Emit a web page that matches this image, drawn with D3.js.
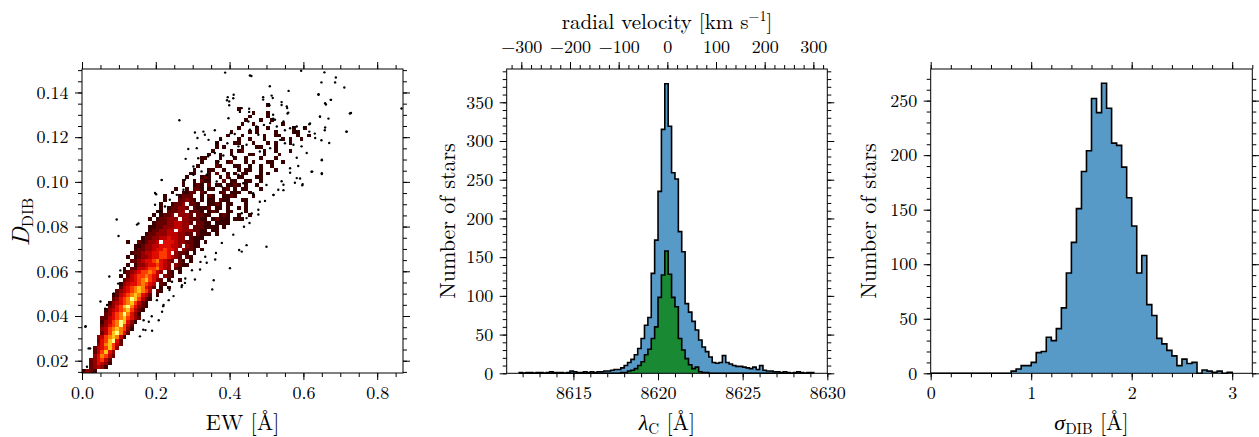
<!DOCTYPE html>
<html>
<head>
<meta charset="utf-8">
<script src="https://cdn.jsdelivr.net/npm/d3@7"></script>
<style>
body { margin: 0; background: #fff; }
svg text { font-family: "Latin Modern Roman"; fill: #000; }
.axis path.domain { display: none; }
.axis line { stroke: #000; stroke-width: 1; }
.axis text { font-family: "Latin Modern Roman"; font-size: 18px; }
.label { font-size: 22px; }
</style>
</head>
<body>
<svg id="fig" width="1259" height="437"></svg>
<script>
// ---- data ----

// left panel: 2D density of D_DIB vs EW, one string per D bin (lowest D first),
// one character per EW bin of 0.01 A, '.' = empty, 1..9 = density level
const densityEWStep = 0.01
const densityDStart = 0.0145
const densityDStep = 0.0017
const densityRows = [
  "2321",
  "..23431",
  "..235431",
  "..235642",
  "...357642",
  "...246853",
  "...2456863",
  "....3578642",
  "....2568952",
  "....34678741",
  ".....24689752",
  ".....346787631",
  ".....235679642",
  ".....1346798531",
  ".....22456786532",
  "......2356797531",
  "......13456786421",
  ".......23568975321",
  ".......13456786421",
  "........23567986421",
  "........12456787542.1",
  ".........2345678764.21",
  "..........2456787542.1.1",
  "..........1345567654.21",
  "...........23456786532.1..1",
  "..........1.245667654.321",
  "...........12345667643.21.1",
  "...........1.22445667543.21",
  "............1.1334556543.3211",
  ".............223455675432.21.1",
  "............1.1233455665432.21",
  ".............12234455665.3221.1",
  "..............122334556554.3221.1",
  "..............1123344555443.3211",
  "............1..212334.5554332211.1",
  "................122334454433.2111",
  ".................1223334443322.2111.1",
  "..................1223344.43332211.11",
  "..................11223334433.2221111.1",
  "...................12223344332.2211.1111",
  "..................1.122333.3322211.12111.111",
  "...................1.1223.3332.2211..121..1..1",
  "....................11.22233.2221.121..11...1",
  ".....................1.122332.21112.11.1..1.1",
  ".....................1..1223.221..1121.11...1",
  "......................1...22321.1.11.211...11",
  "......................1...1222..1.21..1121....1",
  "........................1..1122.21...12.111..1",
  ".........................1..1.221.11..12.1.11...1",
  "...........................1..121.2.11.1121.1..1",
  "...........................1..1.211...2.11..11..1",
  "............................1...121..1.2..11...11",
  ".............................11...1.2..1.1.21...1.1",
  "..............................1...11..1...1.11..1...1",
  "...............................1....21...11..1..1..1",
  "................................1...1..12...1.1...11..1",
  "................................11...1...1..1...1...1",
  "..................................1..1..1....11..1...1",
  "...................................1....1.12.....1..1...1",
  "....................................1.1....1...11...1",
  "....................................1....11...1...1.1...1",
  ".....................................1....1..1...1....1.1..1",
  ".......................................1...1.....1..11....1..1",
  "........................................1....1.1....1....11",
  "..........................................1....1..1......1..1",
  "...........................................1..1.......1",
  "............................................1...1..1",
  ".............................................1....1",
  "..............................................1...1",
  "..........................................1",
  "..................................................1"
]

// left panel: isolated stars drawn as dots [EW, D_DIB]
const outlierStars = [
  [0.388, 0.1489], [0.455, 0.1476], [0.459, 0.1474], [0.594, 0.1497], [0.657, 0.149],
  [0.688, 0.1467], [0.686, 0.1445], [0.649, 0.1445], [0.711, 0.1422], [0.509, 0.1428],
  [0.866, 0.1328], [0.726, 0.1306], [0.717, 0.1224], [0.661, 0.1346], [0.674, 0.1367],
  [0.641, 0.139], [0.56, 0.1407], [0.508, 0.1343], [0.491, 0.1368], [0.517, 0.1375],
  [0.541, 0.1344], [0.556, 0.133], [0.453, 0.1313], [0.428, 0.1313], [0.399, 0.1343],
  [0.393, 0.1365], [0.41, 0.1374], [0.264, 0.1276], [0.645, 0.1291], [0.557, 0.1306],
  [0.518, 0.1283], [0.573, 0.1243], [0.55, 0.1231], [0.618, 0.1261], [0.602, 0.1243],
  [0.631, 0.1216], [0.649, 0.1186], [0.67, 0.1174], [0.658, 0.1231], [0.668, 0.1283],
  [0.65, 0.1097], [0.622, 0.1045], [0.65, 0.1035], [0.597, 0.0985], [0.577, 0.0996],
  [0.591, 0.1015], [0.546, 0.0963], [0.519, 0.0941], [0.478, 0.0854], [0.5, 0.071],
  [0.446, 0.0717], [0.433, 0.0688], [0.401, 0.0614], [0.353, 0.0519], [0.27, 0.053],
  [0.216, 0.1008], [0.198, 0.095], [0.153, 0.0814], [0.094, 0.0832], [0.099, 0.0758],
  [0.074, 0.0577], [0.05, 0.0465], [0.01, 0.0354], [0.022, 0.0255], [0.166, 0.0339],
  [0.19, 0.0334], [0.157, 0.0309], [0.189, 0.0399], [0.22, 0.0444], [0.248, 0.0489],
  [0.279, 0.0548], [0.32, 0.0608], [0.306, 0.0563], [0.338, 0.0638], [0.363, 0.0682],
  [0.379, 0.0727], [0.41, 0.0764], [0.426, 0.0695], [0.439, 0.0799], [0.46, 0.0859],
  [0.482, 0.0911], [0.5, 0.0986], [0.464, 0.0949], [0.541, 0.1003], [0.564, 0.1041],
  [0.586, 0.1071], [0.582, 0.1108], [0.009, 0.0352], [0.018, 0.0255], [0.063, 0.0433],
  [0.149, 0.0809], [0.098, 0.0545], [0.104, 0.0604], [0.086, 0.0501], [0.068, 0.0449],
  [0.167, 0.0381], [0.172, 0.0337], [0.181, 0.0374], [0.208, 0.0381], [0.221, 0.0449],
  [0.217, 0.0419], [0.235, 0.0471], [0.203, 0.0471], [0.237, 0.0516], [0.271, 0.0538],
  [0.244, 0.0553], [0.28, 0.0568], [0.298, 0.0605], [0.321, 0.0642], [0.357, 0.056],
  [0.361, 0.0653], [0.334, 0.0665], [0.0135, 0.0173], [0.0045, 0.0158],
  [0.395, 0.1379], [0.411, 0.139], [0.399, 0.136], [0.433, 0.133], [0.453, 0.1327],
  [0.491, 0.1379], [0.514, 0.1386], [0.505, 0.1348], [0.541, 0.1357], [0.555, 0.1337],
  [0.518, 0.13], [0.523, 0.1278], [0.559, 0.131], [0.546, 0.127], [0.528, 0.1248],
  [0.564, 0.124], [0.582, 0.1248], [0.579, 0.1225], [0.616, 0.1258], [0.616, 0.1225],
  [0.641, 0.1392], [0.659, 0.1352], [0.675, 0.1367], [0.645, 0.1293], [0.659, 0.1243],
  [0.717, 0.1225], [0.729, 0.1308], [0.306, 0.1221], [0.329, 0.1225], [0.36, 0.1231],
  [0.333, 0.1211], [0.313, 0.1196], [0.343, 0.1188], [0.365, 0.1173], [0.377, 0.1188],
  [0.394, 0.1173], [0.403, 0.1218], [0.414, 0.1214], [0.424, 0.1159], [0.451, 0.127],
  [0.455, 0.1233], [0.473, 0.1248], [0.478, 0.1211], [0.493, 0.1255], [0.51, 0.1263],
  [0.397, 0.1285], [0.288, 0.1147], [0.311, 0.1151], [0.281, 0.1103], [0.302, 0.1069],
  [0.315, 0.1106], [0.342, 0.1114], [0.36, 0.1129], [0.37, 0.1091], [0.383, 0.1118],
  [0.41, 0.1114], [0.446, 0.1166], [0.482, 0.1136], [0.51, 0.1151], [0.537, 0.1188],
  [0.55, 0.1173], [0.573, 0.1166], [0.595, 0.1159], [0.609, 0.1129], [0.632, 0.1196],
  [0.65, 0.1099], [0.65, 0.1039], [0.624, 0.1046], [0.598, 0.099], [0.582, 0.1017],
  [0.564, 0.1061], [0.546, 0.0987], [0.532, 0.0965], [0.519, 0.0942], [0.496, 0.0915],
  [0.478, 0.0875], [0.454, 0.0816], [0.446, 0.0838], [0.433, 0.086], [0.464, 0.0942],
  [0.216, 0.1009], [0.201, 0.0945], [0.198, 0.0898], [0.211, 0.0868], [0.225, 0.089],
  [0.238, 0.092], [0.257, 0.0942], [0.275, 0.0965], [0.279, 0.1009], [0.302, 0.1032],
  [0.324, 0.1047], [0.338, 0.1032], [0.365, 0.1002], [0.378, 0.098], [0.401, 0.1017],
  [0.424, 0.1032], [0.437, 0.0994], [0.455, 0.1069]
]

// middle panel: central wavelength histogram, 0.2 A bins starting at 8611.8 A
const lambdaStart = 8611.8
const lambdaStep = 0.2
const lambdaAll = [
  1, 0, 1, 1, 0, 1, 1, 0, 1, 2,
  1, 1, 1, 0, 1, 3, 2, 1, 1, 2,
  1, 2, 1, 2, 2, 3, 3, 4, 5, 5,
  7, 10, 14, 18, 24, 32, 45, 62, 72, 129,
  172, 235, 315, 374, 319, 259, 251, 183, 157, 90,
  79, 67, 56, 43, 34, 28, 21, 14, 13, 14,
  23, 14, 12, 10, 9, 9, 8, 7, 6, 8,
  5, 10, 4, 3, 3, 2, 2, 1, 2, 1,
  0, 1, 2, 1, 0, 1, 1
]
const lambdaSubset = [
  0, 0, 0, 0, 0, 0, 0, 0, 0, 0,
  0, 0, 0, 0, 0, 0, 0, 0, 0, 0,
  0, 0, 0, 0, 0, 0, 0, 0, 0, 0,
  1, 1, 3, 4, 6, 10, 15, 24, 31, 45,
  60, 98, 127, 158, 128, 98, 86, 45, 30, 19,
  11, 6, 8, 2, 1, 1, 0, 0, 0, 0,
  0, 0, 0, 0, 0, 0, 0, 0, 0, 0,
  0, 0, 0, 0, 0, 0, 0, 0, 0, 0,
  0, 0, 0, 0, 0, 0, 0
]
const restLambda = 8620.55
const lightSpeed = 299792.458

// right panel: DIB width histogram, 0.05 A bins from 0 to 3 A
const sigmaStart = 0
const sigmaStep = 0.05
const sigmaCounts = [
  0, 0, 0, 0, 0, 0, 0, 0, 0, 0,
  0, 0, 0, 0, 0, 0, 2, 4, 7, 7,
  10, 19, 20, 33, 30, 41, 60, 92, 120, 151,
  185, 204, 252, 239, 266, 243, 211, 209, 189, 161,
  135, 92, 108, 63, 53, 32, 27, 21, 16, 7,
  13, 9, 10, 0, 3, 2, 1, 2, 0, 1
]

// tick values
const ewTicks = [0, 0.2, 0.4, 0.6, 0.8]
const dTicks = [0.02, 0.04, 0.06, 0.08, 0.10, 0.12, 0.14]
const lambdaTicks = [8615, 8620, 8625, 8630]
const rvTicks = [-300, -200, -100, 0, 100, 200, 300]
const midCountTicks = [0, 50, 100, 150, 200, 250, 300, 350]
const sigmaTicks = [0, 1, 2, 3]
const rightCountTicks = [0, 50, 100, 150, 200, 250]

// ---- drawing ----
const hotLevels = ['#3a0000', '#640000', '#920000', '#bd0000', '#e00c00',
                   '#ff3a00', '#ff7e00', '#ffc41a', '#ffff8c']
const blueFill = 'rgb(87,153,199)'
const greenFill = 'rgb(26,137,52)'

const svg = d3.select('#fig')

function makePanel(left, top) {
  return svg.append('g').attr('transform', `translate(${left},${top})`)
}

function addAxis(g, axisFn, scale, transform, major, minor, fmt, pad) {
  const gMinor = g.append('g').attr('class', 'axis')
  const gMajor = g.append('g').attr('class', 'axis')
  if (transform) { gMinor.attr('transform', transform); gMajor.attr('transform', transform) }
  gMinor.call(axisFn(scale).tickValues(minor).tickSize(4).tickFormat(''))
  gMajor.call(axisFn(scale).tickValues(major).tickSize(7).tickPadding(pad).tickFormat(fmt))
  gMinor.attr('font-family', null)
  gMajor.attr('font-family', null).attr('font-size', null)
  gMajor.selectAll('text')
    .style('font-family', '"Latin Modern Roman"')
    .style('font-size', '18px')
  return gMajor
}

function frame(g, x, y, w, h, o) {
  addAxis(g, d3.axisBottom, x, `translate(0,${h})`, o.xMajor, o.xMinor, o.xFmt, 6)
  if (o.xTop) {
    addAxis(g, d3.axisTop, o.xTop, null, o.xTopMajor, o.xTopMinor, d3.format('d'), 9)
  } else {
    addAxis(g, d3.axisTop, x, null, o.xMajor, o.xMinor, () => '', 4)
  }
  addAxis(g, d3.axisLeft, y, null, o.yMajor, o.yMinor, o.yFmt, 6.5)
  addAxis(g, d3.axisRight, y, `translate(${w},0)`, o.yMajor, o.yMinor, () => '', 4)
  g.append('rect')
    .attr('width', w).attr('height', h)
    .attr('fill', 'none').attr('stroke', '#000').attr('stroke-width', 1)
}

function stepHist(g, x, y, start, step, counts, fill) {
  const pts = counts.map((c, i) => [start + i * step, c])
  pts.push([start + counts.length * step, counts[counts.length - 1]])
  const area = d3.area().curve(d3.curveStepAfter)
    .x(d => x(d[0])).y0(y(0)).y1(d => y(d[1]))
  g.append('path').attr('d', area(pts)).attr('fill', fill)
  const outline = [[start, 0], ...pts, [start + counts.length * step, 0]]
  const line = d3.line().curve(d3.curveStepAfter).x(d => x(d[0])).y(d => y(d[1]))
  g.append('path').attr('d', line(outline))
    .attr('fill', 'none').attr('stroke', '#000').attr('stroke-width', 1.6)
}

function label(x, y) {
  return svg.append('text').attr('class', 'label')
    .attr('x', x).attr('y', y).attr('text-anchor', 'middle')
}

function yLabel(cx, cy) {
  return svg.append('text').attr('class', 'label')
    .attr('transform', `translate(${cx},${cy}) rotate(-90)`)
    .attr('text-anchor', 'middle')
}

// --- left panel ---
{
  const w = 321, h = 304
  const g = makePanel(82, 69)
  const x = d3.scaleLinear().domain([0, 0.87]).range([0, w])
  const y = d3.scaleLinear().domain([0.0145, 0.1505]).range([h, 0])

  g.append('clipPath').attr('id', 'clipL').append('rect').attr('width', w).attr('height', h)
  const plot = g.append('g').attr('clip-path', 'url(#clipL)')

  const cells = []
  densityRows.forEach((row, r) => {
    row.split('').forEach((ch, c) => {
      if (ch !== '.') cells.push({ ew: c * densityEWStep, d: densityDStart + r * densityDStep, lv: +ch })
    })
  })
  plot.selectAll('rect.cell').data(cells).join('rect')
    .attr('class', 'cell')
    .attr('x', d => x(d.ew))
    .attr('y', d => y(d.d + densityDStep))
    .attr('width', x(densityEWStep) - x(0))
    .attr('height', y(densityDStart) - y(densityDStart + densityDStep))
    .attr('fill', d => hotLevels[d.lv - 1])
    .attr('shape-rendering', 'crispEdges')

  plot.selectAll('circle.star').data(outlierStars).join('circle')
    .attr('class', 'star')
    .attr('cx', d => x(d[0])).attr('cy', d => y(d[1]))
    .attr('r', 1.2).attr('fill', '#000')

  frame(g, x, y, w, h, {
    xMajor: ewTicks, xMinor: d3.range(0, 0.87, 0.05), xFmt: d3.format('.1f'),
    yMajor: dTicks, yMinor: d3.range(0.015, 0.151, 0.005), yFmt: d3.format('.2f')
  })

  label(82 + w / 2, 430).text('EW [Å]')

  const yl = yLabel(29, 222)
  yl.append('tspan').attr('font-style', 'italic').attr('font-size', 25).text('D')
  yl.append('tspan').attr('font-size', 16).attr('dy', 4).text('DIB')
}

// --- middle panel ---
{
  const w = 320.6, h = 304.3
  const g = makePanel(506.7, 69)
  const lamDomain = [8611.06, 8630]
  const x = d3.scaleLinear().domain(lamDomain).range([0, w])
  const y = d3.scaleLinear().domain([0, 393]).range([h, 0])
  const xTop = d3.scaleLinear()
    .domain(lamDomain.map(l => lightSpeed * (l / restLambda - 1)))
    .range([0, w])

  stepHist(g, x, y, lambdaStart, lambdaStep, lambdaAll, blueFill)
  stepHist(g, x, y, lambdaStart, lambdaStep, lambdaSubset, greenFill)

  frame(g, x, y, w, h, {
    xMajor: lambdaTicks, xMinor: d3.range(8612, 8631, 1), xFmt: d3.format('d'),
    xTop: xTop, xTopMajor: rvTicks, xTopMinor: d3.range(-320, 321, 20),
    yMajor: midCountTicks, yMinor: d3.range(0, 391, 10), yFmt: d3.format('d')
  })

  const xl = label(506.7 + w / 2, 430)
  xl.append('tspan').attr('font-style', 'italic').text('λ')
  xl.append('tspan').attr('font-size', 15).attr('dy', 4).text('C')
  xl.append('tspan').attr('dy', -4).text(' [Å]')

  const tl = label(506.7 + w / 2, 29).attr('font-size', 21).style('font-size', '21px')
  tl.append('tspan').text('radial velocity [km s')
  tl.append('tspan').attr('font-size', 14).attr('dy', -8).text('−1')
  tl.append('tspan').attr('dy', 8).text(']')

  yLabel(455, 221).text('Number of stars')
}

// --- right panel ---
{
  const w = 321.6, h = 304.3
  const g = makePanel(930.7, 69)
  const x = d3.scaleLinear().domain([0, 3.2]).range([0, w])
  const y = d3.scaleLinear().domain([0, 279]).range([h, 0])

  stepHist(g, x, y, sigmaStart, sigmaStep, sigmaCounts, blueFill)

  frame(g, x, y, w, h, {
    xMajor: sigmaTicks, xMinor: d3.range(0, 3.21, 0.2), xFmt: d3.format('d'),
    yMajor: rightCountTicks, yMinor: d3.range(0, 279, 10), yFmt: d3.format('d')
  })

  const xl = label(930.7 + w / 2, 430)
  xl.append('tspan').attr('font-style', 'italic').text('σ')
  xl.append('tspan').attr('font-size', 15).attr('dy', 4).text('DIB')
  xl.append('tspan').attr('dy', -4).text(' [Å]')

  yLabel(876, 221).text('Number of stars')
}
</script>
</body>
</html>
